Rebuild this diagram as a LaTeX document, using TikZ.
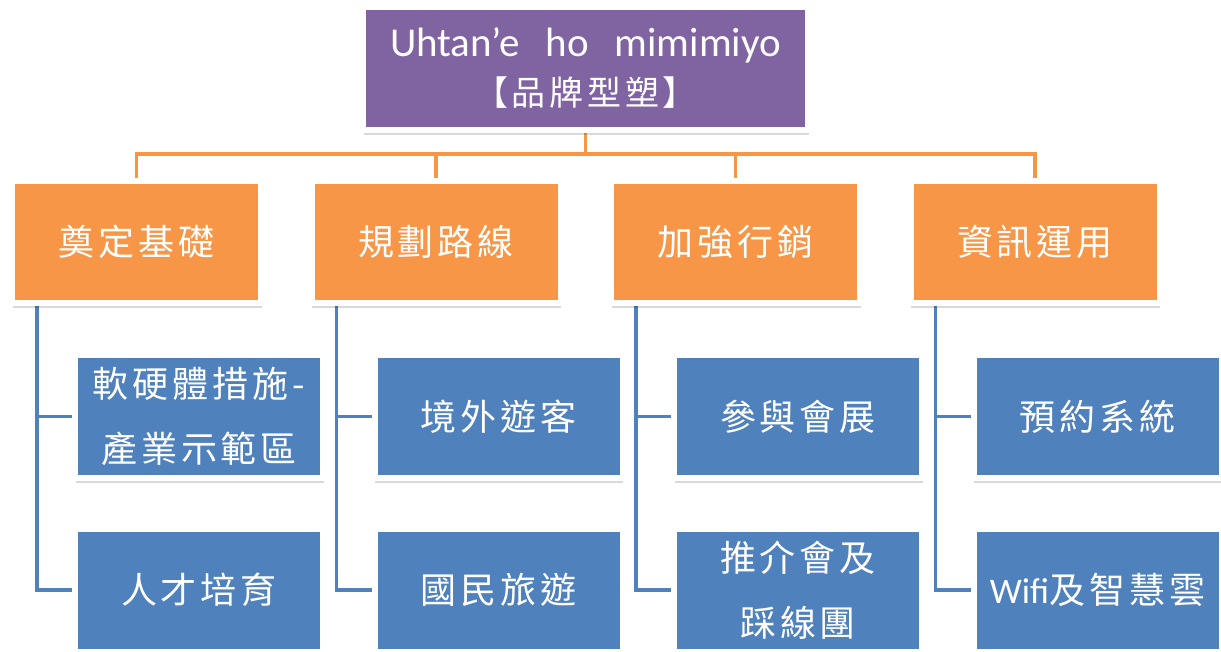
\documentclass[tikz,border=0pt]{standalone}
\usepackage{fontspec}
\setmainfont{Carlito}
\newfontfamily\cjk[LetterSpace=11]{Noto Sans CJK TC}
\usetikzlibrary{shadows}
\usetikzlibrary{backgrounds}
\definecolor{purp}{HTML}{8064A2}
\definecolor{ornge}{HTML}{F79646}
\definecolor{blu}{HTML}{4F81BD}
\newcommand*{\xa  }{136.5}
\newcommand*{\gap }{299.5}
\newcommand*{\subx}{62.5}
\newcommand*{\ycat}{242}
\newcommand*{\yone}{416.5}
\newcommand*{\ytwo}{590}
\newcommand*{\lnx }{25pt}

\begin{document}
\begin{tikzpicture}[x=1pt, y=-1pt,
    box/.style      = {draw=white, line width=6pt, inner sep=0pt, outer sep=0pt, text=white, align=center,
                       drop shadow={shadow xshift=0.5pt, shadow yshift=-5pt, opacity=0.15, fill=black}},
    headbox/.style  = {box, fill=purp, minimum width=445pt, minimum height=123pt, font=\fontsize{41}{49}\selectfont},
    catbox/.style   = {box, fill=ornge, minimum width=249pt, minimum height=122pt, font=\cjk\fontsize{36}{65}\selectfont},
    itembox/.style  = {box, fill=blu, minimum width=248pt, minimum height=123pt, font=\cjk\fontsize{36}{65}\selectfont},
    trunk/.style    = {draw=ornge, line width=3.5pt},
    branch/.style   = {draw=blu, line width=3.5pt}]
    \useasboundingbox (0,0) rectangle (1221,651);
    \node [headbox] (brand) at (585.5,68.5) {Uhtan’e\hspace{26pt}ho\hspace{26pt}mimimiyo\\{\cjk\fontsize{34}{49}\selectfont 【品牌型塑】}};
    % second row
    \node [catbox] (found)  at (\xa       ,\ycat) {奠定基礎};
    \node [catbox] (route)  at (\xa+\gap  ,\ycat) {規劃路線};
    \node [catbox] (market) at (\xa+2*\gap,\ycat) {加強行銷};
    \node [catbox] (info)   at (\xa+3*\gap,\ycat) {資訊運用};
    % third row
    \node [itembox] (found1)  at (\xa+\subx       ,\yone) {軟硬體措施-\\產業示範區};
    \node [itembox] (found2)  at (\xa+\subx       ,\ytwo) {人才培育};
    \node [itembox] (route1)  at (\xa+\subx+\gap  ,\yone) {境外遊客};
    \node [itembox] (route2)  at (\xa+\subx+\gap  ,\ytwo) {國民旅遊};
    \node [itembox] (market1) at (\xa+\subx+2*\gap,\yone) {參與會展};
    \node [itembox] (market2) at (\xa+\subx+2*\gap,\ytwo) {推介會及\\踩線團};
    \node [itembox] (info1)   at (\xa+\subx+3*\gap,\yone) {預約系統};
    \node [itembox] (info2)   at (\xa+\subx+3*\gap,\ytwo) {{\rmfamily Wifi}及智慧雲};
    \begin{scope}[on background layer]
        \coordinate (bus) at (585.5,154);
        \draw [trunk] (brand.south) -- (bus);
        \draw [trunk] (found.north) |- (bus) -| (info.north);
        \draw [trunk] (route.north) |- (bus);
        \draw [trunk] (market.north) |- (bus);
        \draw [branch] ([xshift=\lnx]found.south west)  |- (found1.west);
        \draw [branch] ([xshift=\lnx]found.south west)  |- (found2.west);
        \draw [branch] ([xshift=\lnx]route.south west)  |- (route1.west);
        \draw [branch] ([xshift=\lnx]route.south west)  |- (route2.west);
        \draw [branch] ([xshift=\lnx]market.south west) |- (market1.west);
        \draw [branch] ([xshift=\lnx]market.south west) |- (market2.west);
        \draw [branch] ([xshift=\lnx]info.south west)   |- (info1.west);
        \draw [branch] ([xshift=\lnx]info.south west)   |- (info2.west);
    \end{scope}
\end{tikzpicture}
\end{document}
